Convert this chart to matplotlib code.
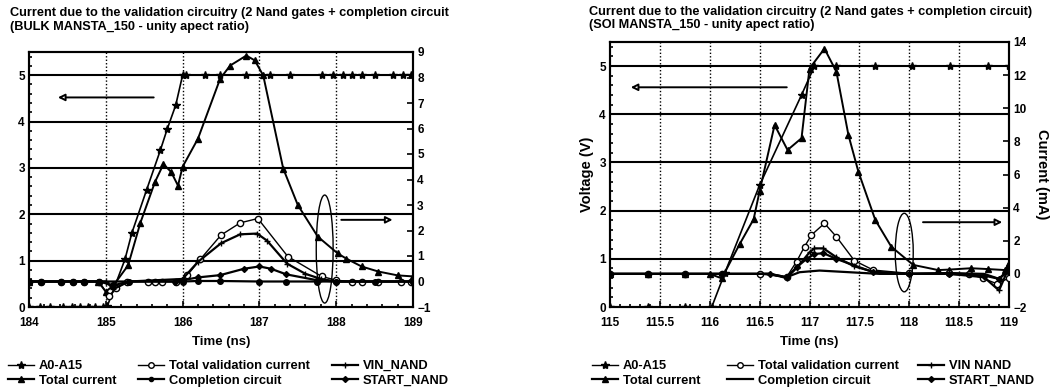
import numpy as np
import matplotlib.pyplot as plt
from matplotlib.patches import Ellipse
from matplotlib.lines import Line2D
from matplotlib.ticker import MultipleLocator

plt.rcParams['font.family'] = ['Liberation Sans', 'DejaVu Sans']
plt.rcParams['font.weight'] = 'bold'

# ---------------- BULK (left) ----------------
b_a0_t = [184, 184.14, 184.27, 184.44, 184.56, 184.66, 184.77, 184.86, 184.96, 185.02, 185.25, 185.34,
          185.53, 185.71, 185.8, 185.91, 186.0, 186.05, 186.29, 186.49, 186.83, 187.14, 187.4, 187.81,
          187.96, 188.09, 188.2, 188.33, 188.5, 188.74, 188.87, 188.98]
b_a0_v = [0, 0, 0, 0, 0, 0, 0, 0, 0, 0.02, 1.03, 1.6, 2.52, 3.38, 3.84, 4.35, 5.0, 5.0, 5.0, 5.0, 5.0,
          5.0, 5.0, 5.0, 5.0, 5.0, 5.0, 5.0, 5.0, 5.0, 5.0, 5.0]

b_tot_t = [184, 184.9, 185.0, 185.1, 185.29, 185.45, 185.64, 185.75, 185.85, 185.94, 186.0, 186.2, 186.49,
           186.62, 186.83, 186.94, 187.05, 187.31, 187.5, 187.76, 188.02, 188.13, 188.33, 188.55, 188.8, 189.0]
b_tot_i = [0, 0, -0.4, -0.15, 0.63, 2.3, 3.9, 4.6, 4.3, 3.76, 4.5, 5.6, 7.96, 8.47, 8.86, 8.67, 8.08,
           4.43, 3.0, 1.76, 1.1, 0.9, 0.59, 0.39, 0.24, 0.2]

b_val_t = [184, 184.16, 184.42, 184.57, 184.72, 184.91, 185.04, 185.13, 185.28, 185.55, 185.64, 185.73,
           185.92, 186.06, 186.23, 186.5, 186.75, 186.98, 187.37, 187.81, 188.0, 188.2, 188.33, 188.55,
           188.84, 188.98]
b_val_i = [0, 0, 0, 0, 0, 0, -0.58, -0.27, 0, 0, 0, 0, 0, 0.24, 0.87, 1.82, 2.3, 2.47, 0.98, 0.2, 0.05,
           0, 0, 0, 0, 0]

b_vin_t = [184, 185.0, 185.1, 185.3, 186.0, 186.2, 186.5, 186.75, 186.97, 187.1, 187.36, 187.6, 187.8, 188.0, 189.0]
b_vin_i = [0, 0, -0.3, 0, 0.1, 0.77, 1.5, 1.85, 1.88, 1.6, 0.7, 0.3, 0.1, 0, 0]

b_cmp_t = [184, 184.16, 184.42, 184.57, 184.72, 184.91, 185.1, 185.3, 186.0, 186.2, 186.49, 187.0, 187.35,
           187.75, 188.0, 188.5, 189.0]
b_cmp_i = [0, 0, 0, 0, 0, 0, -0.15, 0, 0, 0.02, 0.02, 0.0, 0.0, 0.0, 0, 0, 0]

b_st_t = [184, 185.9, 186.0, 186.2, 186.49, 186.8, 187.0, 187.15, 187.35, 187.75, 188.0, 189.0]
b_st_i = [0, 0, 0.05, 0.16, 0.25, 0.5, 0.59, 0.5, 0.28, 0.05, 0, 0]

b_ticks = [184, 185, 186, 187, 188, 189]

# ---------------- SOI (right) ----------------
s_a0_t = [115, 115.38, 115.75, 116.02, 116.15, 116.5, 116.92, 117.05, 117.27, 117.66, 118.03, 118.41, 118.79, 119]
s_a0_v = [0, 0, 0, 0, 0.7, 2.53, 4.4, 5.0, 5.0, 5.0, 5.0, 5.0, 5.0, 5.0]

s_tot_t = [115, 115.38, 115.75, 116.0, 116.12, 116.3, 116.44, 116.5, 116.65, 116.78, 116.92, 117.0, 117.15,
           117.27, 117.39, 117.49, 117.66, 117.82, 118.04, 118.29, 118.4, 118.62, 118.79, 118.96, 119]
s_tot_i = [0, 0, 0, 0, -0.27, 1.8, 3.3, 5.0, 8.99, 7.48, 8.19, 12.4, 13.6, 12.2, 8.39, 6.17, 3.25, 1.64,
           0.54, 0.23, 0.26, 0.34, 0.29, 0.23, 0.66]

s_val_t = [115, 115.38, 115.75, 116.12, 116.5, 116.77, 116.87, 116.95, 117.02, 117.15, 117.27, 117.45,
           117.64, 118.0, 118.4, 118.6, 118.74, 118.88, 119]
s_val_i = [0, 0, 0, 0, 0, -0.2, 0.74, 1.64, 2.35, 3.05, 2.24, 0.8, 0.23, 0.03, 0.05, 0.0, -0.27, -0.6, -0.25]

s_vin_t = [115, 116.6, 116.77, 116.87, 117.0, 117.05, 117.14, 117.27, 117.45, 117.64, 118.0, 118.4, 118.75, 118.9, 119]
s_vin_i = [0, 0, -0.25, 0.35, 1.3, 1.54, 1.54, 1.0, 0.45, 0.13, 0.0, 0.0, -0.2, -1.0, 0.4]

s_cmp_t = [115, 116.6, 116.77, 116.9, 117.1, 117.4, 117.7, 118.0, 118.4, 118.75, 118.9, 119]
s_cmp_i = [0, 0, -0.2, 0.1, 0.2, 0.1, 0.0, 0.0, 0.05, 0.0, -0.3, 0.2]

s_st_t = [115, 115.38, 115.75, 116.12, 116.6, 116.77, 116.87, 116.97, 117.05, 117.14, 117.27, 117.64, 118.0,
          118.4, 118.75, 118.9, 119]
s_st_i = [0, 0, 0, 0, 0, -0.2, 0.4, 0.9, 1.2, 1.25, 0.9, 0.1, 0.0, 0.0, -0.1, -0.3, 0.3]

s_ticks = [115, 115.5, 116, 116.5, 117, 117.5, 118, 118.5, 119]

W, H = 1058, 390
fig = plt.figure(figsize=(W / 100, H / 100), dpi=100)


def box(x0, y0, x1, y1):
    return [x0 / W, 1 - y1 / H, (x1 - x0) / W, (y1 - y0) / H]


def setup(ax, ax2, ticks, xmin, ylim2, y2step):
    ax.set_xlim(ticks[0], ticks[-1])
    ax.set_ylim(0, 5.5)
    ax2.set_ylim(*ylim2)
    ax.set_xticks(ticks)
    ax.set_xticklabels(['%g' % t for t in ticks])
    ax.xaxis.set_minor_locator(MultipleLocator(xmin))
    ax.set_yticks([0, 1, 2, 3, 4, 5])
    ax.yaxis.set_minor_locator(MultipleLocator(0.2))
    ax2.yaxis.set_major_locator(MultipleLocator(y2step))
    for a in (ax, ax2):
        a.tick_params(which='both', direction='in', labelsize=8.5, width=1.2, pad=3)
        a.tick_params(which='major', length=4)
        a.tick_params(which='minor', length=2.5)
        for s in a.spines.values():
            s.set_linewidth(1.5)
    ax.tick_params(axis='x', which='both', pad=7)
    for v in range(1, 6):
        ax.axhline(v, color='black', lw=1.5, zorder=1)
    for xv in ticks[1:-1]:
        ax.axvline(xv, color='black', lw=1, ls=(0, (1, 1.5)), zorder=1)
    ax.set_xlabel('Time (ns)', fontsize=9.5, fontweight='bold', labelpad=5)


def draw(ax, ax2, a0, tot, val, vin, cmp_, st, cmp_marker):
    ax.plot(a0[0], a0[1], color='black', lw=1.2, marker='*', ms=6, zorder=3)
    ax2.plot(tot[0], tot[1], color='black', lw=1.4, marker='^', ms=4, zorder=3)
    ax2.plot(val[0], val[1], color='black', lw=1.0, marker='o', ms=4.5, mfc='white', mew=1, zorder=3)
    ax2.plot(vin[0], vin[1], color='black', lw=1.6, marker='+', ms=4, zorder=3)
    ax2.plot(cmp_[0], cmp_[1], color='black', lw=1.6, marker=cmp_marker, ms=4, zorder=3)
    ax2.plot(st[0], st[1], color='black', lw=1.6, marker='D', ms=3, zorder=3)


# left plot
ax = fig.add_axes(box(29, 52, 413, 307))
ax2 = ax.twinx()
setup(ax, ax2, b_ticks, 0.2, (-1, 9), 1)
draw(ax, ax2, (b_a0_t, b_a0_v), (b_tot_t, b_tot_i), (b_val_t, b_val_i), (b_vin_t, b_vin_i),
     (b_cmp_t, b_cmp_i), (b_st_t, b_st_i), 'o')
ax.annotate('', xy=(184.34, 4.52), xytext=(185.66, 4.52),
            arrowprops=dict(arrowstyle='-|>', fc='white', ec='black', lw=1.4, mutation_scale=10))
ax.annotate('', xy=(188.77, 1.88), xytext=(188.03, 1.88),
            arrowprops=dict(arrowstyle='-|>', fc='white', ec='black', lw=1.4, mutation_scale=10))
ax.add_patch(Ellipse((187.85, 1.25), 0.22, 2.33, fill=False, ec='black', lw=1, zorder=4))
fig.text(10 / W, 1 - 13 / H, 'Current due to the validation circuitry (2 Nand gates + completion circuit',
         fontsize=9.2, fontweight='bold', va='center')
fig.text(10 / W, 1 - 27 / H, '(BULK MANSTA_150 - unity apect ratio)', fontsize=9.2, fontweight='bold',
         va='center')

# right plot
bx = fig.add_axes(box(610, 42, 1009, 307))
bx2 = bx.twinx()
setup(bx, bx2, s_ticks, 0.1, (-2, 14), 2)
draw(bx, bx2, (s_a0_t, s_a0_v), (s_tot_t, s_tot_i), (s_val_t, s_val_i), (s_vin_t, s_vin_i),
     (s_cmp_t, s_cmp_i), (s_st_t, s_st_i), None)
bx.set_ylabel('Voltage (V)', fontsize=10.5, fontweight='bold', labelpad=4)
bx2.set_ylabel('Current (mA)', fontsize=10.5, fontweight='bold', rotation=270, labelpad=16)
bx.annotate('', xy=(115.18, 4.56), xytext=(116.8, 4.56),
            arrowprops=dict(arrowstyle='-|>', fc='white', ec='black', lw=1.4, mutation_scale=10))
bx.annotate('', xy=(118.96, 1.76), xytext=(118.11, 1.76),
            arrowprops=dict(arrowstyle='-|>', fc='white', ec='black', lw=1.4, mutation_scale=10))
bx.add_patch(Ellipse((117.95, 1.13), 0.18, 1.63, fill=False, ec='black', lw=1, zorder=4))
fig.text(589 / W, 1 - 12 / H, 'Current due to the validation circuitry (2 Nand gates + completion circuit)',
         fontsize=9.2, fontweight='bold', va='center')
fig.text(589 / W, 1 - 25 / H, '(SOI MANSTA_150 - unity apect ratio)', fontsize=9.2, fontweight='bold',
         va='center')


# legends, one column each
def h(marker, lw=1.4, mfc='black', ms=4):
    return Line2D([], [], color='black', lw=lw, marker=marker, ms=ms, mfc=mfc)


def legend_col(x, items):
    lg = fig.legend([i[0] for i in items], [i[1] for i in items], loc='upper left',
                    bbox_to_anchor=(x / W, 1 - 360 / H), frameon=False, fontsize=9.3,
                    handlelength=2.0, handletextpad=0.4, labelspacing=0.2, borderpad=0,
                    borderaxespad=0)
    for t in lg.get_texts():
        t.set_fontweight('bold')


legend_col(8, [(h('*', 1.0, ms=6), 'A0-A15'), (h('^', 1.6), 'Total current')])
legend_col(138, [(h('o', 1.0, 'white'), 'Total validation current'), (h('o', 1.6, ms=3), 'Completion circuit')])
legend_col(332, [(h('+', 1.6), 'VIN_NAND'), (h('D', 1.6, ms=3), 'START_NAND')])
legend_col(592, [(h('*', 1.0, ms=6), 'A0-A15'), (h('^', 1.6), 'Total current')])
legend_col(727, [(h('o', 1.0, 'white'), 'Total validation current'), (h(None, 1.6), 'Completion circuit')])
legend_col(918, [(h('+', 1.6), 'VIN NAND'), (h('D', 1.6, ms=3), 'START_NAND')])

fig.savefig('out.png', dpi=100)
